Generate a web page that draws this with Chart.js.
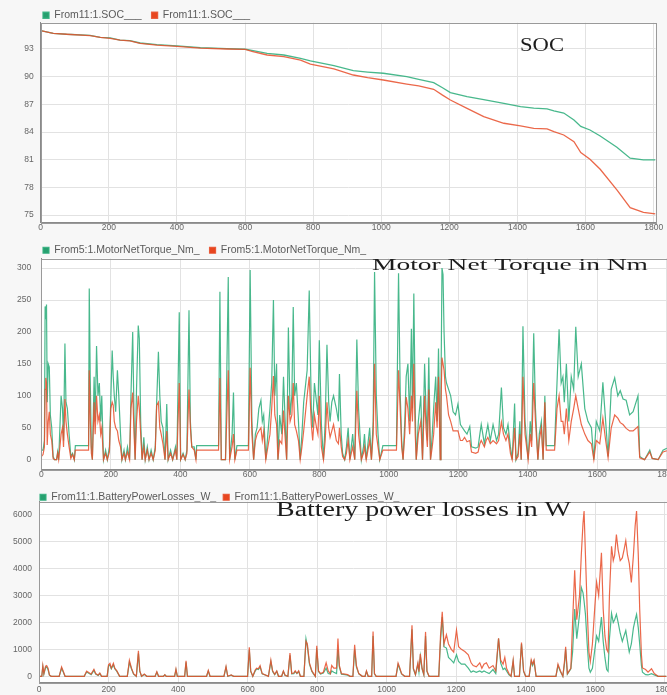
<!DOCTYPE html>
<html>
<head>
<meta charset="utf-8">
<script src="https://cdn.jsdelivr.net/npm/chart.js@4.4.1/dist/chart.umd.min.js"></script>
<style>
  html, body { margin: 0; padding: 0; background: #fff; }
  #page { position: relative; width: 667px; height: 695px; overflow: hidden; background: #f7f7f7; }
  canvas { position: absolute; left: 0; }
</style>
</head>
<body>
<div id="page">
  <canvas id="socChart" width="667" height="235" style="top:0"></canvas>
  <canvas id="torqueChart" width="690" height="250" style="top:235px"></canvas>
  <canvas id="lossChart" width="690" height="210" style="top:485px"></canvas>
</div>
<script>
// --- DATA (time in s) ---
const timeTicks = [0, 200, 400, 600, 800, 1000, 1200, 1400, 1600, 1800];

const socLabel = 'From11:1.SOC___';
const socTicks = [75, 78, 81, 84, 87, 90, 93];
const socTime = [0, 37, 76, 145, 175, 204, 233, 262, 292, 341,
  400, 469, 547, 601, 620, 665, 714, 763, 792, 861,
  918, 960, 1006, 1075, 1110, 1154, 1180, 1203, 1252, 1301,
  1360, 1409, 1448, 1487, 1507, 1536, 1566, 1586, 1613, 1643,
  1692, 1731, 1770, 1805];
const socGreen = [95.0, 94.7, 94.6, 94.48, 94.27, 94.2, 93.97, 93.9, 93.65, 93.47,
  93.33, 93.15, 93.04, 92.97, 92.85, 92.53, 92.35, 91.99, 91.7, 91.2,
  90.65, 90.5, 90.37, 90.0, 89.7, 89.35, 88.8, 88.27, 87.84, 87.5,
  87.1, 86.75, 86.6, 86.5, 86.3, 86.06, 85.3, 84.6, 84.22, 83.57,
  82.35, 81.16, 80.97, 80.97];
const socRed = [95.0, 94.7, 94.6, 94.45, 94.25, 94.15, 93.95, 93.88, 93.6, 93.42,
  93.28, 93.1, 93.0, 92.95, 92.75, 92.35, 92.17, 91.8, 91.37, 90.85,
  90.18, 89.9, 89.64, 89.2, 89.0, 88.63, 88.0, 87.47, 86.57, 85.67,
  84.95, 84.66, 84.4, 84.33, 84.04, 83.68, 82.96, 81.77, 81.05, 79.96,
  77.72, 75.8, 75.3, 75.12];

const tqLabel = 'From5:1.MotorNetTorque_Nm_';
const tqTicks = [0, 50, 100, 150, 200, 250, 300];
const tqTime = [0, 5, 9, 11, 13, 15, 17, 20, 23, 26,
  30, 34, 38, 44, 47, 50, 57, 61, 64, 68,
  71, 75, 80, 85, 90, 95, 98, 136, 138, 141,
  144, 147, 152, 155, 159, 163, 167, 171, 174, 179,
  185, 190, 196, 200, 204, 207, 210, 214, 219, 223,
  228, 232, 238, 242, 248, 254, 258, 263, 267, 270,
  274, 279, 282, 286, 290, 295, 299, 305, 310, 316,
  322, 328, 332, 337, 341, 345, 350, 356, 361, 365,
  372, 378, 386, 390, 397, 401, 408, 414, 419, 425,
  429, 433, 440, 445, 447, 510, 514, 518, 530, 538,
  542, 549, 553, 557, 563, 596, 601, 606, 611, 616,
  621, 626, 632, 636, 640, 646, 652, 658, 663, 668,
  672, 677, 681, 686, 692, 697, 701, 706, 711, 716,
  721, 725, 729, 734, 740, 745, 750, 755, 765, 771,
  777, 781, 786, 792, 796, 800, 806, 812, 817, 822,
  827, 831, 836, 841, 849, 855, 858, 863, 867, 873,
  878, 883, 888, 896, 902, 908, 913, 921, 927, 930,
  935, 945, 950, 955, 959, 964, 969, 974, 983, 1022,
  1028, 1033, 1037, 1041, 1046, 1050, 1055, 1060, 1065, 1068,
  1072, 1076, 1079, 1085, 1092, 1097, 1103, 1107, 1111, 1115,
  1120, 1125, 1129, 1135, 1139, 1143, 1148, 1150, 1153, 1156,
  1159, 1163, 1166, 1172, 1178, 1185, 1192, 1199, 1206, 1212,
  1218, 1225, 1233, 1238, 1250, 1257, 1262, 1266, 1275, 1280,
  1285, 1292, 1300, 1310, 1316, 1324, 1330, 1337, 1343, 1350,
  1355, 1362, 1366, 1372, 1377, 1381, 1386, 1392, 1401, 1407,
  1411, 1417, 1422, 1429, 1433, 1439, 1444, 1449, 1453, 1477,
  1481, 1484, 1490, 1496, 1501, 1505, 1511, 1518, 1525, 1532,
  1538, 1545, 1554, 1564, 1573, 1583, 1590, 1597, 1607, 1616,
  1624, 1631, 1640, 1650, 1659, 1666, 1674, 1683, 1693, 1703,
  1717, 1722, 1736, 1751, 1758, 1775, 1789, 1800];
const tqGreen = [15, 15, 30, 240, 220, 243, 90, 150, 145, 70,
  50, 5, 0, 0, 12, 0, 100, 80, 30, 182,
  90, 80, 40, 5, 10, 0, 22, 22, 268, 120,
  20, 0, 130, 60, 178, 100, 120, 60, 100, 0,
  15, 0, 20, 95, 171, 130, 100, 75, 140, 100,
  40, 0, 15, 0, 20, 0, 100, 200, 60, 0,
  110, 210, 190, 60, 0, 35, 0, 20, 0, 15,
  0, 20, 90, 169, 100, 60, 50, 0, 87, 0,
  15, 0, 20, 0, 231, 0, 10, 0, 15, 234,
  60, 20, 20, 0, 22, 22, 263, 0, 0, 286,
  0, 40, 105, 0, 22, 22, 297, 60, 0, 40,
  50, 80, 93, 60, 70, 0, 40, 80, 120, 250,
  100, 150, 0, 70, 40, 130, 70, 0, 207, 70,
  100, 239, 100, 120, 60, 0, 40, 90, 140, 265,
  80, 50, 120, 90, 70, 187, 55, 0, 60, 180,
  90, 60, 90, 100, 80, 60, 134, 40, 10, 0,
  20, 50, 0, 40, 0, 188, 80, 0, 20, 40,
  0, 50, 0, 60, 294, 100, 40, 0, 22, 22,
  292, 100, 30, 0, 60, 130, 150, 60, 205, 80,
  260, 80, 0, 60, 100, 0, 150, 80, 30, 160,
  0, 40, 80, 130, 60, 174, 0, 100, 300, 290,
  200, 130, 120, 110, 100, 75, 70, 87, 55, 50,
  45, 40, 52, 20, 18, 20, 40, 55, 25, 40,
  55, 30, 55, 30, 40, 113, 50, 40, 55, 20,
  0, 88, 0, 10, 60, 0, 209, 60, 0, 60,
  30, 198, 80, 0, 40, 60, 0, 100, 22, 22,
  80, 120, 204, 120, 130, 90, 150, 60, 130, 110,
  208, 130, 150, 80, 60, 50, 0, 60, 45, 121,
  60, 5, 110, 128, 100, 108, 95, 93, 70, 75,
  100, 5, 0, 15, 2, 0, 15, 18];
const tqRed = [5, 8, 20, 110, 128, 120, 23, 60, 75, 40,
  30, 2, 0, 0, 10, 0, 40, 50, 20, 95,
  60, 40, 20, 2, 8, 0, 15, 15, 140, 60,
  10, 0, 90, 40, 100, 60, 70, 40, 50, 0,
  10, 0, 12, 80, 90, 85, 60, 50, 45, 30,
  20, 0, 10, 0, 12, 0, 80, 105, 40, 0,
  60, 100, 80, 40, 0, 20, 0, 15, 0, 10,
  0, 15, 85, 90, 50, 40, 25, 0, 45, 0,
  10, 0, 15, 0, 120, 0, 8, 0, 10, 110,
  50, 20, 15, 0, 15, 15, 128, 0, 0, 140,
  0, 20, 40, 0, 15, 15, 144, 40, 0, 30,
  40, 45, 50, 30, 45, 0, 20, 40, 80, 131,
  70, 55, 0, 30, 25, 77, 40, 0, 100, 60,
  70, 120, 55, 45, 30, 0, 20, 45, 100, 130,
  55, 30, 70, 50, 40, 100, 20, 0, 30, 90,
  50, 35, 45, 55, 30, 25, 50, 20, 5, 0,
  10, 30, 0, 20, 0, 108, 40, 0, 10, 20,
  0, 30, 0, 40, 150, 40, 20, 0, 15, 15,
  140, 75, 20, 0, 40, 98, 80, 40, 100, 60,
  150, 40, 0, 40, 60, 0, 100, 50, 20, 110,
  0, 20, 40, 90, 50, 130, 0, 80, 160, 150,
  140, 110, 100, 70, 60, 45, 45, 45, 30, 30,
  35, 28, 30, 12, 10, 12, 25, 30, 20, 30,
  35, 25, 30, 25, 30, 59, 40, 30, 40, 10,
  0, 50, 0, 5, 40, 0, 130, 40, 0, 40,
  20, 120, 60, 0, 30, 50, 0, 90, 15, 15,
  50, 80, 100, 60, 60, 40, 80, 30, 60, 80,
  100, 80, 55, 40, 30, 25, 0, 30, 25, 65,
  30, 3, 50, 70, 65, 58, 55, 49, 45, 45,
  52, 3, 0, 12, 2, 0, 12, 14];

const lossLabel = 'From11:1.BatteryPowerLosses_W_';
const lossTicks = [0, 1000, 2000, 3000, 4000, 5000, 6000];
const lossTime = [0, 8, 11, 14, 19, 22, 26, 30, 35, 58,
  65, 70, 75, 130, 137, 142, 150, 158, 163, 170,
  175, 180, 196, 200, 204, 208, 214, 218, 224, 232,
  254, 260, 266, 272, 280, 286, 290, 295, 303, 310,
  334, 339, 344, 358, 362, 366, 390, 394, 398, 419,
  423, 427, 482, 487, 492, 532, 538, 543, 553, 560,
  600, 605, 609, 615, 622, 626, 631, 636, 642, 660,
  667, 672, 678, 684, 689, 698, 703, 708, 716, 722,
  727, 733, 737, 742, 747, 752, 762, 768, 772, 778,
  785, 790, 795, 799, 804, 810, 818, 826, 832, 838,
  842, 848, 856, 860, 864, 870, 880, 888, 895, 903,
  908, 913, 920, 930, 938, 942, 947, 957, 961, 965,
  970, 1027, 1033, 1037, 1043, 1052, 1066, 1073, 1077, 1083,
  1090, 1093, 1097, 1102, 1107, 1112, 1116, 1122, 1150, 1155,
  1160, 1165, 1172, 1178, 1186, 1193, 1201, 1207, 1215, 1225,
  1235, 1243, 1249, 1258, 1268, 1274, 1280, 1287, 1295, 1306,
  1314, 1322, 1328, 1335, 1340, 1345, 1352, 1358, 1364, 1368,
  1382, 1388, 1394, 1400, 1410, 1416, 1420, 1424, 1430, 1487,
  1493, 1500, 1507, 1512, 1515, 1520, 1530, 1535, 1541, 1547,
  1555, 1560, 1565, 1568, 1572, 1577, 1582, 1586, 1592, 1599,
  1604, 1610, 1618, 1623, 1628, 1633, 1637, 1641, 1647, 1652,
  1656, 1661, 1666, 1672, 1678, 1683, 1688, 1693, 1698, 1704,
  1710, 1715, 1719, 1724, 1728, 1733, 1736, 1745, 1752, 1762,
  1770, 1781, 1805];
const lossGreen = [0, 0, 350, 80, 330, 350, 250, 40, 0, 0,
  300, 150, 0, 0, 160, 120, 60, 220, 80, 30,
  100, 0, 0, 380, 420, 280, 430, 280, 180, 0,
  0, 520, 280, 80, 0, 850, 180, 0, 70, 0,
  0, 150, 0, 0, 50, 0, 0, 240, 0, 0,
  520, 0, 0, 190, 0, 0, 330, 0, 40, 0,
  0, 980, 180, 0, 200, 270, 250, 350, 90, 0,
  540, 180, 60, 180, 0, 0, 180, 30, 0, 780,
  90, 100, 180, 100, 180, 0, 0, 1390, 1100, 450,
  180, 80, 0, 1030, 180, 80, 120, 300, 100, 80,
  200, 150, 100, 1000, 350, 80, 60, 40, 0, 0,
  1000, 350, 90, 0, 0, 180, 0, 0, 1500, 90,
  0, 0, 440, 300, 90, 0, 0, 1750, 270, 50,
  450, 150, 750, 270, 60, 1500, 180, 0, 0, 1300,
  2200, 1100, 1050, 700, 600, 500, 800, 550, 450, 450,
  300, 150, 200, 150, 200, 150, 200, 150, 100, 250,
  100, 1400, 500, 250, 300, 200, 50, 0, 550, 0,
  0, 1200, 180, 0, 0, 560, 400, 560, 0, 0,
  400, 180, 0, 500, 1000, 80, 280, 900, 2500, 1400,
  2300, 3300, 3100, 2800, 2300, 1200, 300, 150, 300, 1000,
  1500, 1300, 2200, 1300, 700, 250, 185, 1400, 2340, 2000,
  2100, 2300, 2000, 1600, 1300, 1500, 1700, 1300, 900, 1200,
  1800, 2100, 2300, 1800, 1200, 400, 150, 60, 50, 100,
  50, 0, 0];
const lossRed = [0, 0, 400, 100, 380, 400, 300, 50, 0, 0,
  350, 180, 0, 0, 190, 150, 80, 260, 100, 40,
  120, 0, 0, 430, 480, 300, 480, 300, 200, 0,
  0, 590, 300, 100, 0, 950, 200, 0, 80, 0,
  0, 172, 0, 0, 60, 0, 0, 270, 0, 0,
  580, 0, 0, 220, 0, 0, 370, 0, 50, 0,
  0, 1080, 200, 0, 230, 300, 280, 400, 100, 0,
  600, 200, 70, 200, 0, 0, 200, 40, 0, 860,
  100, 120, 200, 110, 200, 0, 0, 1300, 1200, 500,
  200, 100, 0, 1130, 200, 100, 150, 500, 200, 100,
  400, 300, 300, 1400, 400, 100, 80, 60, 0, 0,
  1170, 400, 100, 0, 0, 200, 0, 0, 1660, 100,
  0, 0, 490, 350, 100, 0, 0, 1900, 300, 60,
  500, 170, 836, 300, 70, 1650, 200, 0, 0, 1500,
  2400, 1200, 1540, 1200, 1000, 900, 1720, 1100, 1000, 920,
  800, 500, 400, 350, 500, 300, 450, 500, 300, 400,
  200, 1415, 600, 450, 700, 300, 100, 0, 600, 0,
  0, 1250, 200, 0, 0, 615, 450, 600, 0, 0,
  450, 200, 0, 600, 1100, 100, 300, 2000, 3940, 2100,
  3000, 4500, 5700, 6146, 4500, 2500, 900, 550, 1200, 2600,
  3500, 3000, 4590, 2500, 1500, 1000, 900, 3000, 4835, 4300,
  4500, 5265, 4700, 4300, 4400, 4700, 5044, 4500, 4200, 3490,
  4500, 5600, 6146, 4500, 2500, 800, 310, 250, 150, 280,
  100, 0, 0];

// --- STYLE ---
const GREEN = 'rgba(52,176,128,0.9)';
const GREEN_BOX = '#26a06f';
const RED = 'rgba(232,78,42,0.85)';
const RED_BOX = '#e8461f';

Chart.defaults.font.family = '"Liberation Sans", Arial, sans-serif';

// légende plus serrée contre la zone de tracé, et décalée vers la droite
const tightLegend = {
  id: 'tightLegend',
  beforeLayout(chart, args, opts) {
    const lg = chart.legend;
    if (!lg || lg._tight) return;
    const fit = lg.fit;
    lg.fit = function () { fit.call(this); if (opts.height) this.height = opts.height; };
    lg._tight = true;
  },
  afterLayout(chart, args, opts) {
    if (chart.legend && opts.shift) {
      chart.legend.left += opts.shift;
      chart.legend.right += opts.shift;
    }
  }
};

// fond gris + zone de tracé blanche + cadre
const plotFrame = {
  id: 'plotFrame',
  beforeDraw(chart) {
    const { ctx, chartArea: a, width, height } = chart;
    ctx.save();
    ctx.fillStyle = '#f7f7f7';
    ctx.fillRect(0, 0, width, height);
    ctx.fillStyle = '#ffffff';
    ctx.fillRect(a.left, a.top, a.right - a.left, a.bottom - a.top);
    ctx.restore();
  },
  afterDraw(chart) {
    const { ctx, chartArea: a } = chart;
    ctx.save();
    ctx.strokeStyle = '#9a9a9a';
    ctx.lineWidth = 1;
    ctx.strokeRect(Math.round(a.left) + 0.5, Math.round(a.top) + 0.5,
      Math.round(a.right - a.left), Math.round(a.bottom - a.top));
    ctx.restore();
  }
};

// titre serif étiré, posé dans la zone de tracé
const panelTitle = {
  id: 'panelTitle',
  afterDraw(chart, args, opts) {
    if (!opts.text) return;
    const { ctx } = chart;
    ctx.save();
    ctx.font = opts.size + 'px "Liberation Serif", "DejaVu Serif", serif';
    ctx.fillStyle = '#1c1c1c';
    ctx.textBaseline = 'alphabetic';
    const w = ctx.measureText(opts.text).width;
    ctx.translate(opts.x, opts.y);
    ctx.scale(opts.width / w, 1);
    ctx.fillText(opts.text, 0, 0);
    ctx.restore();
  }
};

function points(time, values) {
  return time.map((t, i) => ({ x: t, y: values[i] }));
}

function fixedTicks(values) {
  return scale => { scale.ticks = values.map(v => ({ value: v })); };
}

function makePanel(id, p) {
  return new Chart(document.getElementById(id), {
    type: 'line',
    data: {
      datasets: [
        { label: p.label, data: points(p.time, p.green), borderColor: GREEN, backgroundColor: GREEN_BOX,
          borderWidth: p.lw, pointRadius: 0, tension: 0, order: 1 },
        { label: p.label, data: points(p.time, p.red), borderColor: RED, backgroundColor: RED_BOX,
          borderWidth: p.lw, pointRadius: 0, tension: 0, order: 0 }
      ]
    },
    options: {
      responsive: false,
      animation: false,
      events: [],
      layout: { padding: { left: 0, right: p.padRight, top: 0, bottom: 0 } },
      scales: {
        x: {
          type: 'linear', min: 0, max: 1806,
          afterBuildTicks: fixedTicks(timeTicks),
          afterFit: s => { s.height = p.xh; },
          grid: { color: '#e2e2e2', drawTicks: false },
          border: { color: '#8a8a8a' },
          ticks: { padding: p.xpad, color: '#666', font: { size: 8.5 },
            maxRotation: 0, autoSkip: false, callback: v => String(v) }
        },
        y: {
          min: p.ymin, max: p.ymax,
          afterBuildTicks: fixedTicks(p.yTicks),
          afterFit: s => { s.width = p.yw; },
          grid: { color: '#e2e2e2', drawTicks: false },
          border: { color: '#8a8a8a' },
          ticks: { padding: p.ypad, color: '#666', font: { size: 8.5 }, callback: v => String(v) }
        }
      },
      plugins: {
        legend: {
          align: 'start',
          labels: { boxWidth: 6, boxHeight: 6, padding: p.legPad, color: '#5a5a5a',
            font: { size: 10.5 }, sort: (a, b) => a.datasetIndex - b.datasetIndex }
        },
        tooltip: { enabled: false },
        tightLegend: { height: p.legendH, shift: 33 },
        panelTitle: p.title
      }
    },
    plugins: [tightLegend, plotFrame, panelTitle]
  });
}

makePanel('socChart', {
  label: socLabel, time: socTime, green: socGreen, red: socRed, lw: 1.3,
  ymin: 74.17, ymax: 95.85, yTicks: socTicks,
  padRight: 11.3, yw: 40.7, xh: 12.3, xpad: 0, ypad: 7, legPad: 10, legendH: 22.7,
  title: { text: 'SOC', x: 520, y: 51, size: 19, width: 44 }
});

makePanel('torqueChart', {
  label: tqLabel, time: tqTime, green: tqGreen, red: tqRed, lw: 1.2,
  ymin: -16, ymax: 315, yTicks: tqTicks,
  padRight: 21.1, yw: 41.3, xh: 10.7, xpad: 0, ypad: 10, legPad: 10, legendH: 23.5,
  title: { text: 'Motor Net Torque in Nm', x: 372, y: 35, size: 17, width: 276 }
});

makePanel('lossChart', {
  label: lossLabel, time: lossTime, green: lossGreen, red: lossRed, lw: 1.2,
  ymin: -246, ymax: 6490, yTicks: lossTicks,
  padRight: 23.2, yw: 39, xh: 10, xpad: 2, ypad: 7, legPad: 7, legendH: 16.7,
  title: { text: 'Battery power losses in W', x: 276, y: 30.7, size: 20, width: 295 }
});
</script>
</body>
</html>
